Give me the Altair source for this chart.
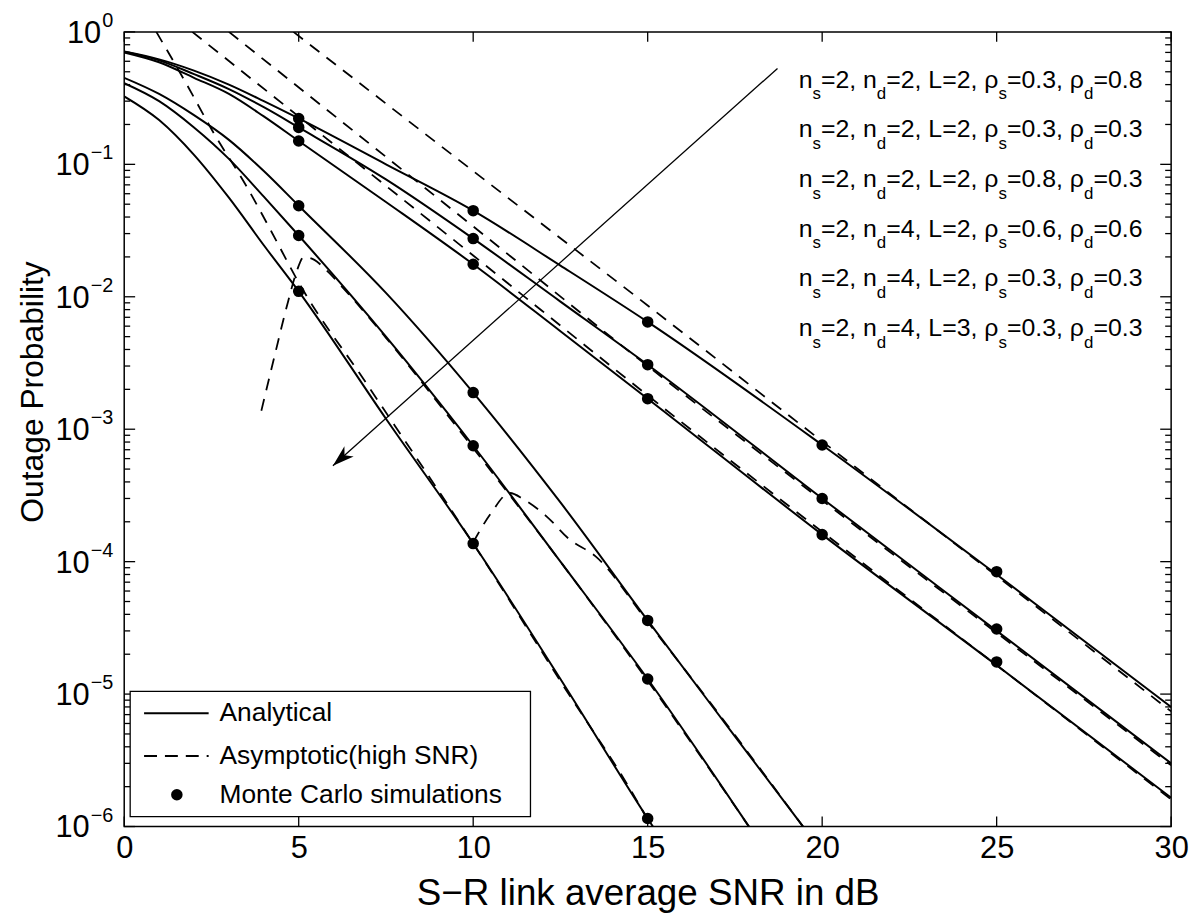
import math
import altair as alt
import pandas as pd

FONT = "Liberation Sans"
W, H = 1054, 800

# ---------------- values ----------------
# Analytical curves (upper group, diversity ~2)
snr_t = [0, 1, 2, 3, 4, 5, 7.5, 10, 12.5, 15, 20, 25, 30]
an_t1 = [0.71, 0.62, 0.51, 0.40, 0.30, 0.222, 0.100, 0.0447, 0.0172, 0.00646, 7.6e-4, 8.0e-5, 8.0e-6]
an_t2 = [0.71, 0.61, 0.48, 0.37, 0.27, 0.190, 0.077, 0.0275, 0.0092, 0.00307, 3.0e-4, 3.0e-5, 3.0e-6]
an_t3 = [0.70, 0.59, 0.45, 0.34, 0.23, 0.150, 0.052, 0.0176, 0.0055, 0.00170, 1.6e-4, 1.65e-5, 1.65e-6]
# Analytical curves (lower group)
snr_a = [0, 1, 2, 3, 4, 5, 7.5, 10, 12.5, 15, 17.5, 19.45]
an_a = [0.45, 0.34, 0.235, 0.153, 0.089, 0.0487, 0.0107, 0.00189, 2.8e-4, 3.6e-5, 4.8e-6, 1e-6]
snr_b = [0, 1, 2, 3, 4, 5, 7.5, 10, 12.5, 15, 17.9]
an_b = [0.41, 0.30, 0.19, 0.11, 0.057, 0.029, 0.0050, 7.5e-4, 1.0e-4, 1.3e-5, 1e-6]
snr_c = [0, 1, 2, 3, 4, 5, 7.5, 10, 12.5, 15, 15.15]
an_c = [0.326, 0.216, 0.118, 0.056, 0.0245, 0.011, 1.2e-3, 1.37e-4, 1.3e-5, 1.15e-6, 1e-6]

# Asymptotic (high SNR) curves
as1_snr = [4.85, 10, 15, 20, 25, 30]
as1_p = [1.0, 0.089, 8.6e-3, 8.1e-4, 7.8e-5, 7.4e-6]
as2_snr = [3.0, 10, 15, 20, 25, 30]
as2_p = [1.0, 0.034, 3.0e-3, 2.9e-4, 2.9e-5, 2.9e-6]
as3_snr = [1.95, 10, 15, 20, 25, 30]
as3_p = [1.0, 0.0205, 1.8e-3, 1.68e-4, 1.65e-5, 1.6e-6]
asc_snr = [0.92, 1.76, 2.6, 3.47, 4.22, 5, 6.9, 10, 12.5, 15, 15.1]
asc_p = [1.0, 0.415, 0.166, 0.0708, 0.031, 0.0128, 2.3e-3, 1.37e-4, 1.25e-5, 1.12e-6, 1e-6]
asb_snr = [3.93, 4.3, 4.7, 4.95, 5.15, 5.45, 5.8, 6.4, 7.5, 10, 12.5, 15, 17.9]
asb_p = [1.38e-3, 3.5e-3, 9.3e-3, 0.0158, 0.020, 0.019, 0.0158, 0.0107, 4.9e-3, 7.2e-4, 1.0e-4, 1.26e-5, 1e-6]
asa_snr = [10.0, 10.5, 11.05, 11.45, 12.1, 12.75, 13.5, 15, 17.5, 19.45]
asa_p = [1.4e-4, 2.3e-4, 3.3e-4, 2.95e-4, 2.2e-4, 1.48e-4, 1.1e-4, 3.5e-5, 4.9e-6, 1e-6]

# Monte Carlo simulation points
mc_snr_t = [5, 10, 15, 20, 25]
mc_t1 = [0.222, 0.0447, 0.00646, 7.6e-4, 8.4e-5]
mc_t2 = [0.190, 0.0275, 0.00307, 3.0e-4, 3.1e-5]
mc_t3 = [0.150, 0.0176, 0.00170, 1.6e-4, 1.75e-5]
mc_snr_l = [5, 10, 15]
mc_a = [0.0487, 0.00189, 3.6e-5]
mc_b = [0.029, 7.5e-4, 1.3e-5]
mc_c = [0.011, 1.37e-4, 1.15e-6]

# Arrow (direction of the parameter sets)
arrow_snr = [18.72, 5.98]
arrow_p = [0.53, 5.3e-4]

# Tick values / labels
x_ticks = [0, 5, 10, 15, 20, 25, 30]
y_major = [1, 1e-1, 1e-2, 1e-3, 1e-4, 1e-5, 1e-6]
y_exp = ["0", "\u22121", "\u22122", "\u22123", "\u22124", "\u22125", "\u22126"]
y_minor = [m * 10.0 ** k for k in range(-6, 0) for m in range(2, 10)]

# Annotation rows
ann_ns = ["2", "2", "2", "2", "2", "2"]
ann_nd = ["2", "2", "2", "4", "4", "4"]
ann_L = ["2", "2", "2", "2", "2", "3"]
ann_rs = ["0.3", "0.3", "0.8", "0.6", "0.3", "0.3"]
ann_rd = ["0.8", "0.3", "0.3", "0.6", "0.3", "0.3"]

legend_labels = ["Analytical", "Asymptotic(high SNR)", "Monte Carlo simulations"]

# ---------------- tables ----------------
def long(name, xs, ys):
    return pd.DataFrame({"series": name, "snr": xs, "p": ys})

an_df = pd.concat([
    long("t1", snr_t, an_t1), long("t2", snr_t, an_t2), long("t3", snr_t, an_t3),
    long("a", snr_a, an_a), long("b", snr_b, an_b), long("c", snr_c, an_c),
])
as_df = pd.concat([
    long("s1", as1_snr, as1_p), long("s2", as2_snr, as2_p), long("s3", as3_snr, as3_p),
    long("sc", asc_snr, asc_p), long("sb", asb_snr, asb_p), long("sa", asa_snr, asa_p),
])
mc_df = pd.concat([
    long("t1", mc_snr_t, mc_t1), long("t2", mc_snr_t, mc_t2), long("t3", mc_snr_t, mc_t3),
    long("a", mc_snr_l, mc_a), long("b", mc_snr_l, mc_b), long("c", mc_snr_l, mc_c),
])
arrow_df = pd.DataFrame({"snr": arrow_snr, "p": arrow_p})

x_scale = alt.Scale(domain=[0, 30], nice=False, zero=False)
y_scale = alt.Scale(type="log", domain=[1e-6, 1], nice=False)

x_axis = alt.Axis(values=x_ticks, labelFontSize=31, labelColor="black", ticks=False,
                  domain=False, grid=False, labelPadding=7, labelFlush=False,
                  title="S\u2212R link average SNR in dB", titleFontSize=37,
                  titleFontWeight="normal", titleColor="black", titlePadding=12)
y_axis = alt.Axis(labels=False, ticks=False, domain=False, grid=False,
                  title="Outage Probability", titleFontSize=32, titleFontWeight="normal",
                  titleColor="black", titleX=-75, titleY=362)

X = alt.X("snr:Q", scale=x_scale, axis=x_axis)
Y = alt.Y("p:Q", scale=y_scale, axis=y_axis)

analytic = alt.Chart(an_df).mark_line(color="black", strokeWidth=2, clip=True,
                                      interpolate="monotone").encode(
    x=X, y=Y, detail="series:N", order="snr:Q")
asym = alt.Chart(as_df).mark_line(color="black", strokeWidth=1.8, strokeDash=[12, 9],
                                  clip=True, interpolate="monotone").encode(
    x=X, y=Y, detail="series:N", order="snr:Q")
sims = alt.Chart(mc_df).mark_circle(color="black", size=135, opacity=1).encode(x=X, y=Y)

# arrow
arrow_line = alt.Chart(arrow_df).mark_line(color="black", strokeWidth=1.3).encode(x=X, y=Y)
sx = W / 30.0
sy = H / 6.0
dxs = (arrow_snr[1] - arrow_snr[0]) * sx
dys = (math.log10(arrow_p[0]) - math.log10(arrow_p[1])) * sy
head_angle = (math.degrees(math.atan2(dys, dxs)) + 90) % 360
arrow_head = alt.Chart(arrow_df.iloc[[1]]).mark_point(
    shape="M0,0 L0.32,1 L0,0.72 L-0.32,1 Z", filled=True, color="black", opacity=1,
    size=1900, angle=head_angle).encode(x=X, y=Y)

# inward ticks (box on all four sides)
xt_df = pd.DataFrame({"snr": x_ticks})
ymaj_df = pd.DataFrame({"p": y_major})
ymin_df = pd.DataFrame({"p": y_minor})
tick_style = dict(color="black", strokeWidth=1.3)
ticks = [
    alt.Chart(xt_df).mark_rule(**tick_style).encode(x=X, y=alt.value(H), y2=alt.value(H - 10)),
    alt.Chart(xt_df).mark_rule(**tick_style).encode(x=X, y=alt.value(0), y2=alt.value(10)),
    alt.Chart(ymaj_df).mark_rule(**tick_style).encode(y=Y, x=alt.value(0), x2=alt.value(11)),
    alt.Chart(ymaj_df).mark_rule(**tick_style).encode(y=Y, x=alt.value(W), x2=alt.value(W - 11)),
    alt.Chart(ymin_df).mark_rule(**tick_style).encode(y=Y, x=alt.value(0), x2=alt.value(6)),
    alt.Chart(ymin_df).mark_rule(**tick_style).encode(y=Y, x=alt.value(W), x2=alt.value(W - 6)),
]

# y tick labels as 10^k with raised exponent
EXP_FS = 20
BASE_FS = 31
def exp_width(s):
    return sum(0.584 if ch == "\u2212" else 0.556 for ch in s) * EXP_FS
ylab_df = pd.DataFrame({"p": y_major, "e": y_exp})
ylab_df["bx"] = [-11 - exp_width(e) - 1 for e in y_exp]
ylab_base = alt.Chart(ylab_df).mark_text(align="right", baseline="middle", fontSize=BASE_FS,
                                         color="black", dy=2).encode(
    y=Y, x=alt.X("bx:Q", scale=None, axis=None), text=alt.value("10"))
ylab_exp = alt.Chart(ylab_df).mark_text(align="right", baseline="middle", fontSize=EXP_FS,
                                        color="black", dy=-11).encode(
    y=Y, x=alt.value(-11), text="e:N")

# annotation block with subscripts
CW = {"n": 556, "s": 500, "d": 556, "=": 584, ",": 278, " ": 278, ".": 278, "L": 556,
      "\u03c1": 575}
def tw(s, fs):
    return sum(CW.get(ch, 556) for ch in s) / 1000.0 * fs

MAIN_FS, SUB_FS = 25, 17
pieces = []
for i in range(6):
    segs = [("n", 0), ("s", 1), ("=" + ann_ns[i] + ", n", 0), ("d", 1),
            ("=" + ann_nd[i] + ", L=" + ann_L[i] + ", \u03c1", 0), ("s", 1),
            ("=" + ann_rs[i] + ", \u03c1", 0), ("d", 1), ("=" + ann_rd[i], 0)]
    xcur = 679.0
    ybase = 56.0 + 50.0 * i
    for txt, sub in segs:
        fs = SUB_FS if sub else MAIN_FS
        pieces.append({"txt": txt, "px": xcur, "py": ybase + (12 if sub else 0), "fs": fs})
        xcur += tw(txt, fs)
ann_df = pd.DataFrame(pieces)
annotation = alt.Chart(ann_df).mark_text(align="left", baseline="alphabetic", color="black").encode(
    x=alt.X("px:Q", scale=None, axis=None), y=alt.Y("py:Q", scale=None, axis=None),
    size=alt.Size("fs:Q", scale=None, legend=None), text="txt:N")

# legend box
one = pd.DataFrame({"k": [0]})
leg_box = alt.Chart(one).mark_rect(fill="white", stroke="black", strokeWidth=1.3).encode(
    x=alt.value(6), x2=alt.value(409), y=alt.value(664), y2=alt.value(790))
leg_solid = alt.Chart(one).mark_rule(color="black", strokeWidth=2).encode(
    x=alt.value(20), x2=alt.value(85), y=alt.value(686))
leg_dash = alt.Chart(one).mark_rule(color="black", strokeWidth=1.8, strokeDash=[13, 8]).encode(
    x=alt.value(20), x2=alt.value(85), y=alt.value(729))
leg_dot = alt.Chart(one).mark_circle(color="black", size=135, opacity=1).encode(
    x=alt.value(53), y=alt.value(768))
leg_text_df = pd.DataFrame({"t": legend_labels, "ly": [686, 729, 768]})
leg_text = alt.Chart(leg_text_df).mark_text(align="left", baseline="middle", fontSize=26.5,
                                           color="black").encode(
    x=alt.value(96), y=alt.Y("ly:Q", scale=None, axis=None), text="t:N")

chart = alt.layer(
    analytic, asym, sims, arrow_line, arrow_head, *ticks, ylab_base, ylab_exp, annotation,
    leg_box, leg_solid, leg_dash, leg_dot, leg_text,
).properties(
    width=W, height=H,
    autosize=alt.AutoSizeParams(type="none"),
    padding={"left": 117, "top": 21, "right": 21, "bottom": 85},
).configure(font=FONT).configure_view(stroke="black", strokeWidth=1.5)

chart.save("out.html", embed_options={"renderer": "svg", "actions": False})
